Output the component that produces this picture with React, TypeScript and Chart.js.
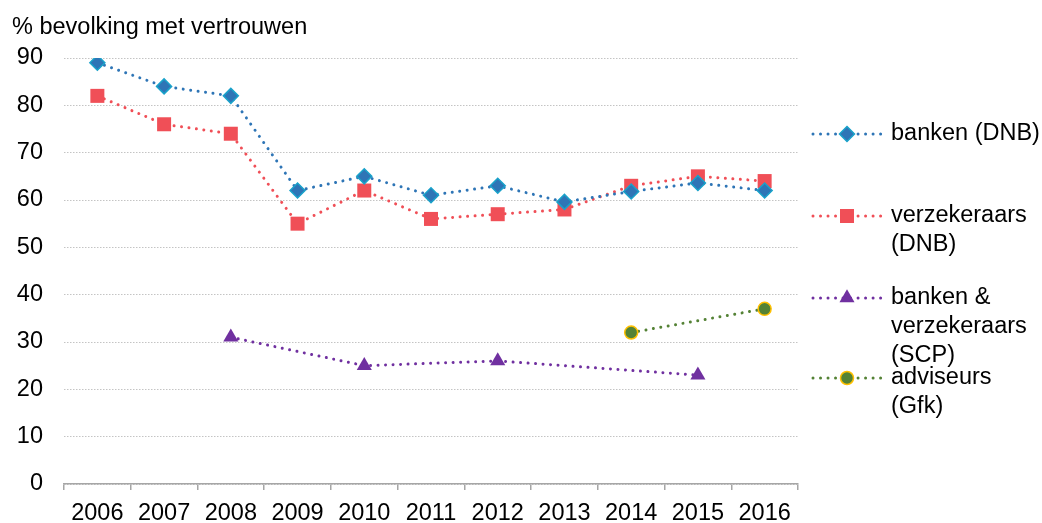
import React, { useEffect, useRef } from "react";
import { Chart, registerables } from "chart.js";

Chart.register(...registerables);

const years = ["2006", "2007", "2008", "2009", "2010", "2011", "2012", "2013", "2014", "2015", "2016"];
const bankenDNB = [89, 84, 82, 62, 65, 61, 63, 59.6, 61.8, 63.6, 62];
const verzekeraarsDNB = [82, 76, 74, 55, 62, 56, 57, 58, 63, 65, 64];
const bankenVerzSCP = [null, null, 31, null, 25, null, 26, null, null, 23, null];
const adviseursGfk = [null, null, null, null, null, null, null, null, 32, null, 37];

const yTicks = [0, 10, 20, 30, 40, 50, 60, 70, 80, 90];
const yTitle = "% bevolking met vertrouwen";

const legendItems = [
  { lines: ["banken (DNB)"], color: "#2E75B6", style: "diamond" },
  { lines: ["verzekeraars", "(DNB)"], color: "#F04F57", style: "square" },
  { lines: ["banken &", "verzekeraars", "(SCP)"], color: "#7030A0", style: "triangle" },
  { lines: ["adviseurs", "(Gfk)"], color: "#548235", style: "circle" },
];

const FONT = "23.5px 'Liberation Sans', Arial, sans-serif";
const DOT_DASH = [0.01, 7.5];

function drawMarker(ctx: CanvasRenderingContext2D, style: string, x: number, y: number) {
  ctx.save();
  ctx.setLineDash([]);
  ctx.beginPath();
  if (style === "diamond") {
    const r = 7.5;
    ctx.moveTo(x, y - r);
    ctx.lineTo(x + r, y);
    ctx.lineTo(x, y + r);
    ctx.lineTo(x - r, y);
    ctx.closePath();
    ctx.fillStyle = "#2E75B6";
    ctx.fill();
    ctx.strokeStyle = "#19A2CA";
    ctx.lineWidth = 1.5;
    ctx.stroke();
  } else if (style === "square") {
    const h = 7;
    ctx.rect(x - h, y - h, 2 * h, 2 * h);
    ctx.fillStyle = "#F04F57";
    ctx.fill();
  } else if (style === "triangle") {
    const r = 8.7;
    ctx.moveTo(x, y - r);
    ctx.lineTo(x + r * Math.cos(Math.PI / 6), y + r / 2);
    ctx.lineTo(x - r * Math.cos(Math.PI / 6), y + r / 2);
    ctx.closePath();
    ctx.fillStyle = "#7030A0";
    ctx.fill();
  } else {
    ctx.arc(x, y, 6.5, 0, Math.PI * 2);
    ctx.fillStyle = "#548235";
    ctx.fill();
    ctx.strokeStyle = "#FFC000";
    ctx.lineWidth = 1.5;
    ctx.stroke();
  }
  ctx.restore();
}

const decorPlugin = {
  id: "decor",
  afterDraw(chart: any) {
    const ctx: CanvasRenderingContext2D = chart.ctx;
    ctx.save();
    ctx.font = FONT;
    ctx.fillStyle = "#000";
    ctx.textBaseline = "middle";
    ctx.textAlign = "left";
    ctx.fillText(yTitle, 12, 28);

    const area = chart.chartArea;
    const x0 = area.right + 15;
    const x1 = x0 + 68;
    const xm = (x0 + x1) / 2;
    const tx = x1 + 10;
    const lineH = 29;
    const startY = [134, 216, 298, 378];
    legendItems.forEach((it, i) => {
      const y = startY[i];
      ctx.save();
      ctx.strokeStyle = it.color;
      ctx.lineWidth = 3;
      ctx.lineCap = "round";
      ctx.setLineDash(DOT_DASH);
      ctx.beginPath();
      ctx.moveTo(x0, y);
      ctx.lineTo(x1, y);
      ctx.stroke();
      ctx.restore();
      drawMarker(ctx, it.style, xm, y);
      ctx.fillStyle = "#000";
      it.lines.forEach((t, j) => ctx.fillText(t, tx, y + j * lineH));
    });
    ctx.restore();
  },
};

export default function App() {
  const ref = useRef<HTMLCanvasElement>(null);
  useEffect(() => {
    if (!ref.current) return;
    const common = {
      borderWidth: 3,
      borderCapStyle: "round",
      borderDash: DOT_DASH,
      tension: 0,
      fill: false,
      spanGaps: true,
    };
    const chart = new Chart(ref.current, {
      type: "line",
      data: {
        labels: years,
        datasets: [
          {
            label: "adviseurs (Gfk)",
            data: adviseursGfk,
            borderColor: "#548235",
            pointStyle: "circle",
            pointRadius: 6.5,
            pointBackgroundColor: "#548235",
            pointBorderColor: "#FFC000",
            pointBorderWidth: 1.5,
            ...common,
          },
          {
            label: "banken & verzekeraars (SCP)",
            data: bankenVerzSCP,
            borderColor: "#7030A0",
            pointStyle: "triangle",
            pointRadius: 8.7,
            pointBackgroundColor: "#7030A0",
            pointBorderColor: "#7030A0",
            pointBorderWidth: 0,
            ...common,
          },
          {
            label: "banken (DNB)",
            data: bankenDNB,
            borderColor: "#2E75B6",
            pointStyle: "rectRot",
            pointRadius: 7.5,
            pointBackgroundColor: "#2E75B6",
            pointBorderColor: "#19A2CA",
            pointBorderWidth: 1.5,
            ...common,
          },
          {
            label: "verzekeraars (DNB)",
            data: verzekeraarsDNB,
            borderColor: "#F04F57",
            pointStyle: "rect",
            pointRadius: 9.9,
            pointBackgroundColor: "#F04F57",
            pointBorderColor: "#F04F57",
            pointBorderWidth: 0,
            ...common,
          },
        ] as any,
      },
      options: {
        animation: false,
        responsive: false,
        maintainAspectRatio: false,
        layout: { padding: { top: 58, right: 244, left: 0, bottom: 0 } },
        plugins: {
          legend: { display: false },
          tooltip: { enabled: false },
          title: { display: false },
        },
        scales: {
          x: {
            type: "category",
            offset: true,
            grid: {
              offset: true,
              drawOnChartArea: false,
              drawTicks: true,
              tickLength: 6,
              color: "#A6A6A6",
              lineWidth: 1.5,
            },
            border: { display: true, color: "#A6A6A6", width: 1.5 },
            ticks: {
              color: "#000",
              font: { family: "'Liberation Sans', Arial, sans-serif", size: 23.5 },
              padding: 9,
              maxRotation: 0,
              autoSkip: false,
            },
            afterFit: (s: any) => {
              s.height = 39;
            },
          },
          y: {
            min: 0,
            max: 90,
            afterBuildTicks: (s: any) => {
              s.ticks = yTicks.map((v) => ({ value: v }));
            },
            grid: {
              color: "#C4C4C4",
              lineWidth: 1,
              drawTicks: false,
            },
            border: { display: false, dash: [1.5, 1.5] },
            ticks: {
              color: "#000",
              font: { family: "'Liberation Sans', Arial, sans-serif", size: 23.5 },
              padding: 21,
            },
            afterFit: (s: any) => {
              s.width = 64;
            },
          },
        },
      } as any,
      plugins: [decorPlugin],
    });
    return () => chart.destroy();
  }, []);
  return (
    <div style={{ position: "absolute", left: 0, top: 0, width: 1042, height: 523, background: "#fff" }}>
      <canvas ref={ref} width={1042} height={523} style={{ width: 1042, height: 523 }} />
    </div>
  );
}
